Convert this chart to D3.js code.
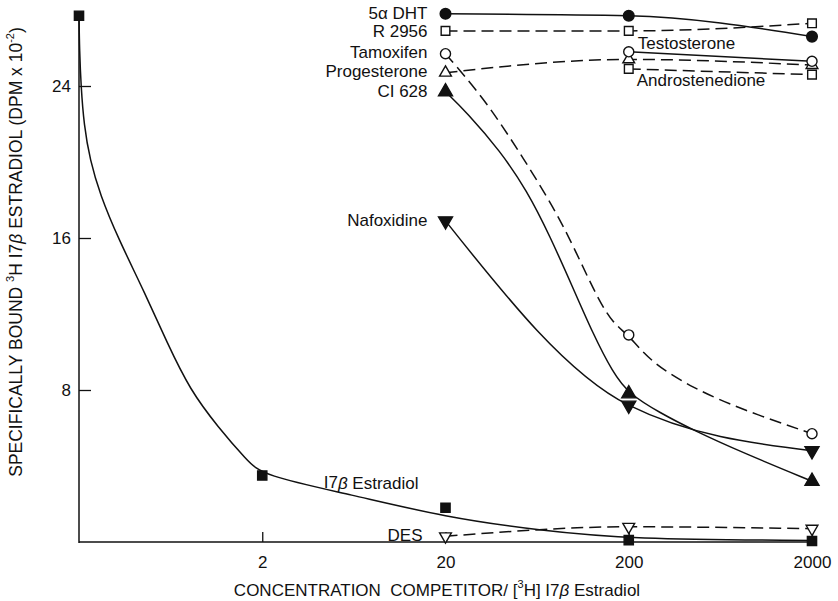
<!DOCTYPE html>
<html lang="en">
<head>
<meta charset="UTF-8">
<title>Competition for estradiol binding</title>
<style>
  body { margin: 0; background: #fff; }
  svg { display: block; }
  text { font-family: "Liberation Sans", Arial, Helvetica, sans-serif; fill: #111; }
</style>
</head>
<body>
<svg id="chart" width="838" height="601"></svg>
<script src="https://cdn.jsdelivr.net/npm/d3@7"></script>
<script>
// competitor concentration (multiple of [3H] estradiol); 0.2 stands for the no-competitor point on the axis
const conc = [20, 200, 2000];
const concLate = [200, 2000];
const estradiolConc = [0.2, 2, 20, 200, 2000];
const xTicks = [2, 20, 200, 2000];
const yTicks = [8, 16, 24];

// bound DPM x 10^-2 at each concentration
const estradiol = [27.7, 3.5, 1.8, 0.1, 0.05];
const des = [0.3, 0.8, 0.7];
const dht = [27.8, 27.7, 26.6];
const r2956 = [26.9, 26.9, 27.3];
const tamoxifen = [25.7, 10.9, 5.7];
const progesterone = [24.7, 25.4, 25.1];
const ci628 = [23.7, 7.8, 3.2];
const nafoxidine = [16.9, 7.2, 4.8];
const testosterone = [25.8, 25.3];
const androstenedione = [24.9, 24.6];

// hand-drawn fitted curves
const estradiolFitX = [0.2, 0.2013, 0.2051, 0.2129, 0.2296, 0.2604, 0.3264, 0.458, 0.604, 0.807, 1.147, 1.65, 2, 6.07, 20, 66, 200, 2000];
const estradiolFitY = [27.7, 25.9, 24.0, 21.95, 20.1, 18.3, 16.0, 13.1, 10.5, 8.0, 6.05, 4.3, 3.5, 2.5, 1.3, 0.6, 0.15, 0.08];
const tamoxifenFitX = [20, 32, 44.9, 59.9, 81, 104, 134, 164, 200, 260.6, 447, 838, 2000];
const tamoxifenFitY = [25.7, 23.4, 21.3, 19.4, 17.3, 15.2, 12.9, 11.5, 10.9, 9.5, 8.1, 6.95, 5.7];
const ci628FitX = [20, 26.2, 39.6, 55.6, 74.3, 99, 127, 164, 200, 296, 447, 838, 2000];
const ci628FitY = [23.7, 22.6, 20.6, 18.5, 16.1, 13.4, 11.0, 8.9, 7.8, 6.8, 5.9, 4.7, 3.2];

const svg = d3.select("#chart");
const x = d3.scaleLog().domain([0.2, 2000]).range([79, 812]);
const y = d3.scaleLinear().domain([0, 28]).range([542, 10]);

svg.append("rect").attr("width", 838).attr("height", 601).attr("fill", "#fff");

// axes
const xAxis = svg.append("g").attr("transform", "translate(0,542)")
  .call(d3.axisBottom(x).tickValues(xTicks).tickFormat(d3.format("d")).tickSize(-10).tickPadding(14));
const yAxis = svg.append("g").attr("transform", "translate(79,0)")
  .call(d3.axisLeft(y).tickValues(yTicks).tickSize(-12).tickPadding(8));
[xAxis, yAxis].forEach(g => {
  g.select(".domain").remove();
  g.selectAll("line").attr("stroke", "#111").attr("stroke-width", 1.3);
  g.selectAll("text").attr("font-size", 17).attr("fill", "#111")
    .style("font-family", "'Liberation Sans', Arial, sans-serif");
});
svg.append("line").attr("x1", 79).attr("x2", 812).attr("y1", 542).attr("y2", 542)
  .attr("stroke", "#111").attr("stroke-width", 1.5);
svg.append("line").attr("x1", 79).attr("x2", 79).attr("y1", 543).attr("y2", y(27.7))
  .attr("stroke", "#111").attr("stroke-width", 1.5);

// lines: measured points joined smoothly, traced fits drawn with a basis spline
const smooth = d3.line().x(d => x(d[0])).y(d => y(d[1])).curve(d3.curveMonotoneX);
const fitted = d3.line().x(d => x(d[0])).y(d => y(d[1])).curve(d3.curveBasis);
const zipped = (xs, ys) => xs.map((v, i) => [v, ys[i]]);

const curves = [
  { pts: zipped(estradiolFitX, estradiolFitY), dash: null, gen: fitted },
  { pts: zipped(conc, des), dash: "12,6", gen: smooth },
  { pts: zipped(conc, dht), dash: null, gen: smooth },
  { pts: zipped(conc, r2956), dash: "12,6", gen: smooth },
  { pts: zipped(tamoxifenFitX, tamoxifenFitY), dash: "12,6", gen: fitted },
  { pts: zipped(conc, progesterone), dash: "12,6", gen: smooth },
  { pts: zipped(ci628FitX, ci628FitY), dash: null, gen: fitted },
  { pts: zipped(conc, nafoxidine), dash: null, gen: smooth },
  { pts: zipped(concLate, testosterone), dash: null, gen: smooth },
  { pts: zipped(concLate, androstenedione), dash: "12,6", gen: smooth }
];
svg.append("g").selectAll("path").data(curves).join("path")
  .attr("d", d => d.gen(d.pts))
  .attr("fill", "none").attr("stroke", "#111").attr("stroke-width", 1.5)
  .attr("stroke-dasharray", d => d.dash);

// markers
const markerSets = [
  { xs: estradiolConc, ys: estradiol, type: d3.symbolSquare, size: 85, fill: true, rot: 0 },
  { xs: conc, ys: des, type: d3.symbolTriangle, size: 60, fill: false, rot: 180 },
  { xs: conc, ys: dht, type: d3.symbolCircle, size: 90, fill: true, rot: 0 },
  { xs: conc, ys: r2956, type: d3.symbolSquare, size: 75, fill: false, rot: 0 },
  { xs: conc, ys: tamoxifen, type: d3.symbolCircle, size: 80, fill: false, rot: 0 },
  { xs: conc, ys: progesterone, type: d3.symbolTriangle, size: 60, fill: false, rot: 0 },
  { xs: concLate, ys: testosterone, type: d3.symbolCircle, size: 80, fill: false, rot: 0 },
  { xs: concLate, ys: androstenedione, type: d3.symbolSquare, size: 75, fill: false, rot: 0 },
  { xs: conc, ys: ci628, type: d3.symbolTriangle, size: 85, fill: true, rot: 0 },
  { xs: conc, ys: nafoxidine, type: d3.symbolTriangle, size: 85, fill: true, rot: 180 }
];
markerSets.forEach(m => {
  svg.append("g").selectAll("path").data(zipped(m.xs, m.ys)).join("path")
    .attr("d", d3.symbol().type(m.type).size(m.size))
    .attr("transform", d => `translate(${x(d[0])},${y(d[1])}) rotate(${m.rot})`)
    .attr("fill", m.fill ? "#111" : "#fff")
    .attr("stroke", "#111").attr("stroke-width", 1.4);
});

// series labels
const lab = (t, px, py, anchor) => svg.append("text")
  .attr("x", px).attr("y", py).attr("text-anchor", anchor || "end")
  .attr("dominant-baseline", "central").attr("font-size", 17).text(t);
const lx = x(20) - 18;
lab("5\u03b1 DHT", lx, y(dht[0]));
lab("R 2956", lx, y(r2956[0]) + 1);
lab("Tamoxifen", lx, y(tamoxifen[0]) - 1);
lab("Progesterone", lx, y(progesterone[0]) - 1);
lab("CI 628", lx, y(ci628[0]));
lab("Nafoxidine", lx, y(nafoxidine[0]));
lab("DES", x(20) - 23, y(des[0]) - 1);
lab("Testosterone", x(200) + 9, y(testosterone[0]) - 8, "start");
lab("Androstenedione", x(200) + 8, y(androstenedione[0]) + 12, "start");
const est = lab("I7", x(20) - 27, y(estradiol[2]) - 25);
est.append("tspan").attr("font-style", "italic").text("\u03b2");
est.append("tspan").text(" Estradiol");

// axis titles
const xt = svg.append("text").attr("x", 437).attr("y", 590).attr("text-anchor", "middle")
  .attr("dominant-baseline", "central").attr("font-size", 17)
  .text("CONCENTRATION\u00a0\u00a0COMPETITOR/ [");
xt.append("tspan").attr("font-size", 11).attr("dy", -6).text("3");
xt.append("tspan").attr("dy", 6).text("H] I7");
xt.append("tspan").attr("font-style", "italic").text("\u03b2");
xt.append("tspan").text(" Estradiol");

const yt = svg.append("text").attr("transform", "translate(16,252) rotate(-90)")
  .attr("text-anchor", "middle").attr("dominant-baseline", "central").attr("font-size", 17.5)
  .text("SPECIFICALLY BOUND ");
yt.append("tspan").attr("font-size", 11).attr("dy", -6).text("3");
yt.append("tspan").attr("dy", 6).text("H I7");
yt.append("tspan").attr("font-style", "italic").text("\u03b2");
yt.append("tspan").text(" ESTRADIOL (DPM x 10");
yt.append("tspan").attr("font-size", 11).attr("dy", -6).text("-2");
yt.append("tspan").attr("dy", 6).text(")");
</script>
</body>
</html>
